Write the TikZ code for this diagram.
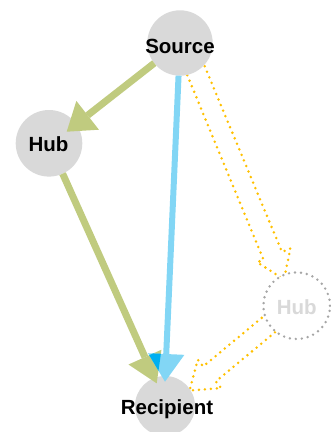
\documentclass[tikz,border=0pt]{standalone}
\usepackage{fontspec}
\setmainfont{Liberation Sans}
\usetikzlibrary{calc}
\definecolor{nodegray}{HTML}{D9D9D9}
\definecolor{pathgreen}{RGB}{192,203,127}
\definecolor{pathblue}{RGB}{130,214,245}
\definecolor{overlapblue}{HTML}{00B0F0}
\definecolor{altgold}{HTML}{FFC000}
\definecolor{ghostgray}{HTML}{A6A6A6}

\begin{document}
\begin{tikzpicture}[x=1pt,y=-1pt,
  nodedisc/.style={circle,fill=nodegray,inner sep=0pt,outer sep=0pt,minimum size=#1},
  ghostdisc/.style={circle,fill=white,draw=ghostgray,line width=2.7pt,
    dash pattern=on 0pt off 6pt,line cap=round,inner sep=0pt,outer sep=0pt,minimum size=#1},
  lbl/.style={font=\bfseries\fontsize{20.5}{24}\selectfont,inner sep=0pt,
    text height=14.7pt,text depth=0pt},
  altpath/.style={draw=altgold,line width=2.8pt,dash pattern=on 0pt off 6pt,
    line cap=round,line join=round},
  greenshaft/.style={draw=pathgreen,line width=7pt},
  blueshaft/.style={draw=pathblue,line width=6pt},
]
\useasboundingbox (0,0) rectangle (331,432);

% hollow dotted arrows of the alternative route (drawn under the discs)
\draw[altpath] (180.4,58.5) -- (263.5,259.7) -- (257.3,262.3) -- (283.9,279.4)
  -- (290.5,248.5) -- (282,252) -- (197.3,48.5);
\draw[altpath] (271,310.2) -- (203.2,366.4) -- (197.8,359.7) -- (189.5,390.5)
  -- (221.2,388.1) -- (215.8,381.4) -- (284.3,324.6);

% discs
\node[nodedisc=65.4pt] (src) at (180,43) {};
\node[nodedisc=66.6pt] (hubL) at (49,143.3) {};
\node[nodedisc=60pt] (rcp) at (165,406) {};
\node[ghostdisc=66.6pt] (hubR) at (296.7,305.7) {};

% arrow tips and head corners
\coordinate (gAt) at (66.7,131.7);
\coordinate (gAb) at ($(gAt)!26.6pt!(src)$);
\coordinate (gA1) at ($(gAb)!18.3pt!90:(gAt)$);
\coordinate (gA2) at ($(gAb)!18.3pt!-90:(gAt)$);

\coordinate (gBt) at (156.7,383.3);
\coordinate (gBb) at ($(gBt)!28.7pt!(hubL)$);
\coordinate (gB1) at ($(gBb)!18.1pt!90:(gBt)$);
\coordinate (gB2) at ($(gBb)!18.1pt!-90:(gBt)$);

\coordinate (bt) at (165,381.7);
\coordinate (bb) at ($(bt)!27.7pt!(src)$);
\coordinate (b1) at ($(bb)!18.2pt!90:(bt)$);
\coordinate (b2) at ($(bb)!18.2pt!-90:(bt)$);

% Source -> Hub
\draw[greenshaft] (src) -- (gAb);
\fill[pathgreen] (gAt) -- (gA1) -- (gA2) -- cycle;
% Hub -> Recipient
\draw[greenshaft] (hubL) -- (gBb);
\fill[pathgreen] (gBt) -- (gB1) -- (gB2) -- cycle;
% Source -> Recipient
\draw[blueshaft] (src) -- (bb);
\fill[pathblue] (bt) -- (b1) -- (b2) -- cycle;
% where the two heads overlap
\begin{scope}
  \clip (gBt) -- (gB1) -- (gB2) -- cycle;
  \fill[overlapblue] (bt) -- (b1) -- (b2) -- cycle;
\end{scope}

% labels
\node[lbl] (srcT) at (180,46.3) {Source};
\node[lbl] (hubLT) at (48.5,144.2) {Hub};
\node[lbl] (rcpT) at (167,407.5) {Recipient};
\node[lbl,text=nodegray] (hubRT) at (296.7,307.5) {Hub};
\end{tikzpicture}
\end{document}
